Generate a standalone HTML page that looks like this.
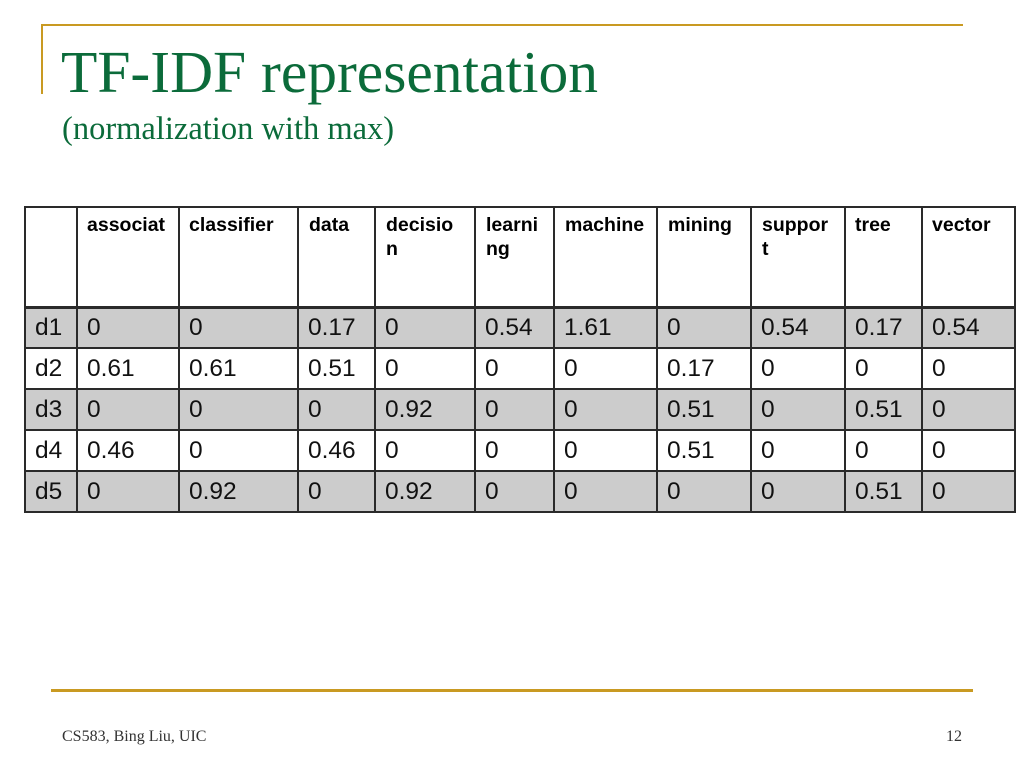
<!DOCTYPE html>
<html>
<head>
<meta charset="utf-8">
<style>
  html,body{margin:0;padding:0;background:#fff;}
  body{width:1024px;height:768px;position:relative;overflow:hidden;}
  .a{position:absolute;}
  .gold{background:#c99a22;}
  .title{font-family:"Liberation Serif",serif;color:#0b6b3a;white-space:nowrap;}
  .hl{position:absolute;height:2px;background:#2a2a2a;left:24px;width:992px;}
  .vl{position:absolute;width:2px;background:#2a2a2a;top:206px;height:307px;}
  .gray{position:absolute;left:25px;width:990px;height:41px;background:#cccccc;}
  .h{position:absolute;top:213px;font-family:"Liberation Sans",Arial,sans-serif;font-weight:bold;font-size:19.5px;line-height:24px;color:#000;white-space:nowrap;}
  .c{position:absolute;height:41px;line-height:41px;font-family:"Liberation Sans",Arial,sans-serif;font-size:24.5px;color:#111;white-space:nowrap;}
  .foot{font-family:"Liberation Serif",serif;font-size:16px;line-height:16px;color:#333;white-space:nowrap;}
</style>
</head>
<body>
<!-- decorative gold lines -->
<div class="a gold" style="left:41px;top:24px;width:922px;height:2px;"></div>
<div class="a gold" style="left:41px;top:24px;width:2px;height:70px;"></div>
<div class="a gold" style="left:51px;top:689px;width:922px;height:3px;"></div>

<!-- title -->
<div class="a title" style="left:61px;top:42.5px;font-size:59.5px;line-height:59.5px;">TF-IDF representation</div>
<div class="a title" style="left:62px;top:112.8px;font-size:32.5px;line-height:32.5px;">(normalization with max)</div>

<!-- gray rows -->
<div class="gray" style="top:307px;"></div>
<div class="gray" style="top:389px;"></div>
<div class="gray" style="top:471px;"></div>

<!-- horizontal lines -->
<div class="hl" style="top:206px;"></div>
<div class="hl" style="top:306px;height:3px;"></div>
<div class="hl" style="top:347px;"></div>
<div class="hl" style="top:388px;"></div>
<div class="hl" style="top:429px;"></div>
<div class="hl" style="top:470px;"></div>
<div class="hl" style="top:511px;"></div>

<!-- vertical lines -->
<div class="vl" style="left:24px;"></div>
<div class="vl" style="left:76px;"></div>
<div class="vl" style="left:178px;"></div>
<div class="vl" style="left:297px;"></div>
<div class="vl" style="left:374px;"></div>
<div class="vl" style="left:474px;"></div>
<div class="vl" style="left:553px;"></div>
<div class="vl" style="left:656px;"></div>
<div class="vl" style="left:750px;"></div>
<div class="vl" style="left:844px;"></div>
<div class="vl" style="left:921px;"></div>
<div class="vl" style="left:1014px;"></div>

<!-- header -->
<div class="h" style="left:87px;">associat</div>
<div class="h" style="left:189px;">classifier</div>
<div class="h" style="left:309px;">data</div>
<div class="h" style="left:386px;">decisio<br>n</div>
<div class="h" style="left:486px;">learni<br>ng</div>
<div class="h" style="left:565px;">machine</div>
<div class="h" style="left:668px;">mining</div>
<div class="h" style="left:762px;">suppor<br>t</div>
<div class="h" style="left:855px;">tree</div>
<div class="h" style="left:932px;">vector</div>

<!-- row d1 -->
<div class="c" style="top:307px;left:35px;">d1</div>
<div class="c" style="top:307px;left:87px;">0</div>
<div class="c" style="top:307px;left:189px;">0</div>
<div class="c" style="top:307px;left:308px;">0.17</div>
<div class="c" style="top:307px;left:385px;">0</div>
<div class="c" style="top:307px;left:485px;">0.54</div>
<div class="c" style="top:307px;left:564px;">1.61</div>
<div class="c" style="top:307px;left:667px;">0</div>
<div class="c" style="top:307px;left:761px;">0.54</div>
<div class="c" style="top:307px;left:855px;">0.17</div>
<div class="c" style="top:307px;left:932px;">0.54</div>

<!-- row d2 -->
<div class="c" style="top:348px;left:35px;">d2</div>
<div class="c" style="top:348px;left:87px;">0.61</div>
<div class="c" style="top:348px;left:189px;">0.61</div>
<div class="c" style="top:348px;left:308px;">0.51</div>
<div class="c" style="top:348px;left:385px;">0</div>
<div class="c" style="top:348px;left:485px;">0</div>
<div class="c" style="top:348px;left:564px;">0</div>
<div class="c" style="top:348px;left:667px;">0.17</div>
<div class="c" style="top:348px;left:761px;">0</div>
<div class="c" style="top:348px;left:855px;">0</div>
<div class="c" style="top:348px;left:932px;">0</div>

<!-- row d3 -->
<div class="c" style="top:389px;left:35px;">d3</div>
<div class="c" style="top:389px;left:87px;">0</div>
<div class="c" style="top:389px;left:189px;">0</div>
<div class="c" style="top:389px;left:308px;">0</div>
<div class="c" style="top:389px;left:385px;">0.92</div>
<div class="c" style="top:389px;left:485px;">0</div>
<div class="c" style="top:389px;left:564px;">0</div>
<div class="c" style="top:389px;left:667px;">0.51</div>
<div class="c" style="top:389px;left:761px;">0</div>
<div class="c" style="top:389px;left:855px;">0.51</div>
<div class="c" style="top:389px;left:932px;">0</div>

<!-- row d4 -->
<div class="c" style="top:430px;left:35px;">d4</div>
<div class="c" style="top:430px;left:87px;">0.46</div>
<div class="c" style="top:430px;left:189px;">0</div>
<div class="c" style="top:430px;left:308px;">0.46</div>
<div class="c" style="top:430px;left:385px;">0</div>
<div class="c" style="top:430px;left:485px;">0</div>
<div class="c" style="top:430px;left:564px;">0</div>
<div class="c" style="top:430px;left:667px;">0.51</div>
<div class="c" style="top:430px;left:761px;">0</div>
<div class="c" style="top:430px;left:855px;">0</div>
<div class="c" style="top:430px;left:932px;">0</div>

<!-- row d5 -->
<div class="c" style="top:471px;left:35px;">d5</div>
<div class="c" style="top:471px;left:87px;">0</div>
<div class="c" style="top:471px;left:189px;">0.92</div>
<div class="c" style="top:471px;left:308px;">0</div>
<div class="c" style="top:471px;left:385px;">0.92</div>
<div class="c" style="top:471px;left:485px;">0</div>
<div class="c" style="top:471px;left:564px;">0</div>
<div class="c" style="top:471px;left:667px;">0</div>
<div class="c" style="top:471px;left:761px;">0</div>
<div class="c" style="top:471px;left:855px;">0.51</div>
<div class="c" style="top:471px;left:932px;">0</div>

<!-- footer -->
<div class="a foot" style="left:62px;top:728.6px;">CS583, Bing Liu, UIC</div>
<div class="a foot" style="left:946px;top:728.6px;">12</div>
</body>
</html>
